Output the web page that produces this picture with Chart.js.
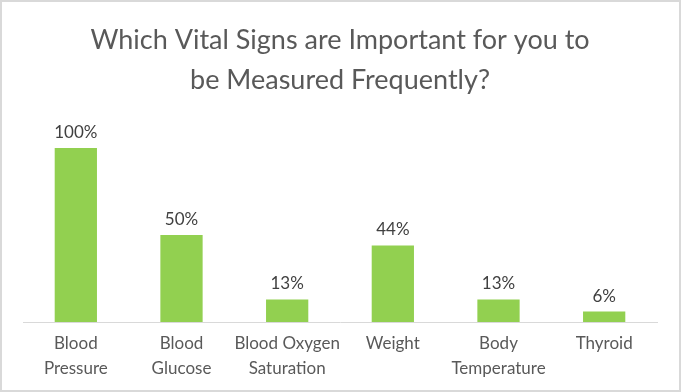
<!DOCTYPE html>
<html>
<head>
<meta charset="utf-8">
<script src="https://cdn.jsdelivr.net/npm/chart.js@4"></script>
<style>
  html, body { margin: 0; padding: 0; background: #fff; }
  #wrap { width: 681px; height: 392px; box-sizing: border-box; border: 2px solid #d9d9d9; background: #fff; }
</style>
</head>
<body>
<div id="wrap"><canvas id="myChart" width="677" height="388"></canvas></div>
<script>
var categories = [
	['Blood', 'Pressure'],
	['Blood', 'Glucose'],
	['Blood Oxygen', 'Saturation'],
	'Weight',
	['Body', 'Temperature'],
	'Thyroid'
]
var values = [100, 50, 13, 44, 13, 6]
var titleLines = ['Which Vital Signs are Important for you to', 'be Measured Frequently?']

// подписи над столбцами
var valueLabels = {
	id: 'valueLabels',
	afterDatasetsDraw: function (chart) {
		var ctx = chart.ctx
		var meta = chart.getDatasetMeta(0)
		ctx.save()
		ctx.font = '17px Lato'
		ctx.fillStyle = '#404040'
		ctx.textAlign = 'center'
		ctx.textBaseline = 'bottom'
		meta.data.forEach(function (bar, i) {
			ctx.fillText(values[i] + '%', bar.x, bar.y - 7)
		})
		ctx.restore()
	}
}

var ctx = document.getElementById('myChart').getContext('2d')
var myChart = new Chart(ctx, {
	type: 'bar',
	data: {
		labels: categories,
		datasets: [{
			data: values,
			backgroundColor: '#92d050',
			categoryPercentage: 1,
			barPercentage: 0.4
		}]
	},
	options: {
		responsive: false,
		animation: false,
		layout: { padding: { left: 21, right: 22, top: 18, bottom: 0 } },
		plugins: {
			legend: { display: false },
			tooltip: { enabled: false },
			title: {
				display: true,
				text: titleLines,
				color: '#595959',
				font: { family: 'Lato', size: 27, weight: 'normal', lineHeight: 1.48 },
				padding: { top: 0, bottom: 48 }
			}
		},
		scales: {
			x: {
				grid: { display: false, drawTicks: false },
				border: { color: '#d9d9d9', width: 1 },
				ticks: {
					color: '#595959',
					font: { family: 'Lato', size: 17, lineHeight: 1.47 },
					padding: 9,
					maxRotation: 0,
					autoSkip: false
				}
			},
			y: {
				display: false,
				min: 0,
				max: 100
			}
		}
	},
	plugins: [valueLabels]
})
</script>
</body>
</html>
